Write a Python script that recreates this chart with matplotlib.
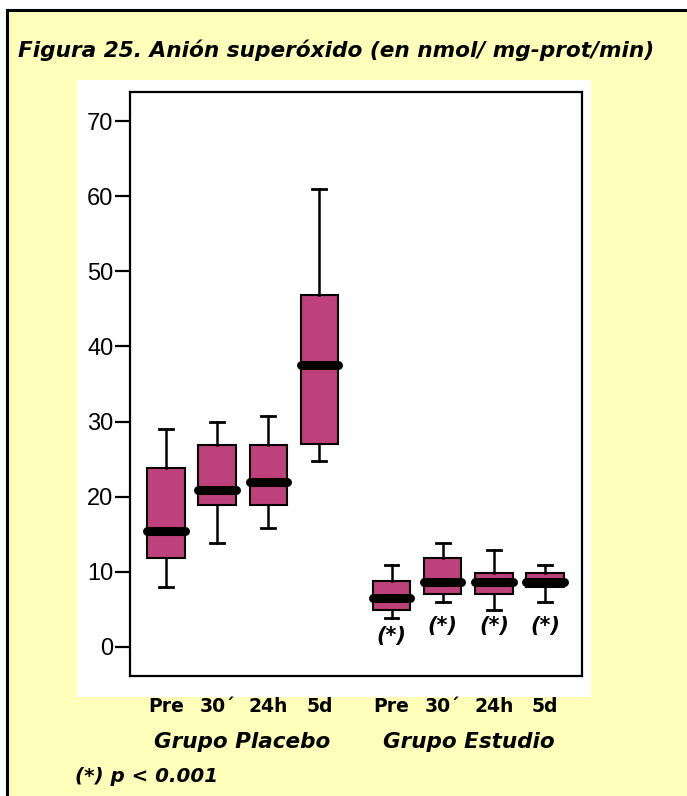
import matplotlib
matplotlib.use("Agg")
import matplotlib.pyplot as plt
from matplotlib.patches import Rectangle
from matplotlib.lines import Line2D
import matplotlib.transforms as mtransforms

# data (nmol / mg-prot / min)
times = ["Pre", "30\u00b4", "24h", "5d"]
groups = ["Grupo Placebo", "Grupo Estudio"]
positions = [1, 2, 3, 4, 5.41, 6.41, 7.41, 8.41]
whislo = [8.0, 13.9, 15.8, 24.8, 3.9, 6.0, 4.9, 6.0]
q1 = [11.9, 18.9, 18.9, 27.0, 4.9, 7.1, 7.1, 8.0]
med = [15.5, 20.9, 22.0, 37.5, 6.5, 8.6, 8.6, 8.6]
q3 = [23.8, 26.9, 26.9, 46.8, 8.8, 11.9, 9.9, 9.9]
whishi = [29.0, 30.0, 30.8, 60.9, 10.9, 13.9, 12.9, 10.9]
star_y = [1.4, 2.8, 2.8, 2.8]  # where the (*) marks sit under the study boxes

yellow = "#FFFFBB"
box_color = "#BD417B"
txt_font = ["DejaVu Sans"]
num_font = ["Liberation Sans Narrow", "Liberation Sans", "DejaVu Sans"]

fig = plt.figure(figsize=(6.87, 7.96), dpi=100)
W, H = 687.0, 796.0

# yellow card with black top and left border
fig.patches.append(Rectangle((7 / W, 0), 1 - 7 / W, 1 - 10 / H, transform=fig.transFigure,
                             facecolor=yellow, edgecolor="none", zorder=0))
fig.lines.append(Line2D([7 / W, 1], [1 - 10 / H, 1 - 10 / H], transform=fig.transFigure,
                        color="black", lw=2.2))
fig.lines.append(Line2D([7 / W, 7 / W], [0, 1 - 10 / H], transform=fig.transFigure,
                        color="black", lw=2.2))
# white panel behind the chart
fig.patches.append(Rectangle((77 / W, 1 - 697 / H), 514 / W, 617 / H, transform=fig.transFigure,
                             facecolor="white", edgecolor="none", zorder=0))

fig.text(18 / W, 1 - 50 / H, "Figura 25. Anión superóxido (en nmol/ mg-prot/min)",
         fontsize=15.6, fontweight="bold", fontstyle="italic", family=txt_font,
         ha="left", va="center")

ax = fig.add_axes([130 / W, 1 - 676 / H, 452 / W, 584 / H])
ax.set_zorder(2)
ax.set_facecolor("white")

stats = []
for i in range(len(positions)):
    stats.append({"whislo": whislo[i], "q1": q1[i], "med": med[i], "q3": q3[i],
                  "whishi": whishi[i], "fliers": []})

ax.bxp(stats, positions=positions, widths=0.73, patch_artist=True, showfliers=False,
       capwidths=0.27,
       boxprops=dict(facecolor=box_color, edgecolor="black", linewidth=1.5),
       whiskerprops=dict(color="black", linewidth=1.8),
       capprops=dict(color="black", linewidth=2.0),
       medianprops=dict(color="black", linewidth=6.5, solid_capstyle="round"))

ax.set_xlim(0.30, 9.13)
ax.set_ylim(-3.86, 73.86)
ax.set_yticks([0, 10, 20, 30, 40, 50, 60, 70])
ax.tick_params(axis="y", direction="out", length=11, width=1.6, pad=1, labelsize=17)
for lab in ax.get_yticklabels():
    lab.set_family(num_font)

ax.set_xticks(positions)
ax.set_xticklabels(times * 2, fontsize=13.5, fontweight="bold", family=txt_font)
ax.tick_params(axis="x", length=0, pad=15)
for s in ax.spines.values():
    s.set_linewidth(1.6)

# significance marks under the study boxes
for p, y in zip(positions[4:], star_y):
    ax.text(p, y, "(*)", ha="center", va="center", fontsize=15, fontweight="bold",
            fontstyle="italic", family=txt_font)

# group names under the time labels
trans = mtransforms.blended_transform_factory(ax.transData, fig.transFigure)
ax.text(sum(positions[:4]) / 4, 1 - 742 / H, groups[0], transform=trans, ha="center",
        va="center", fontsize=15.5, fontweight="bold", fontstyle="italic", family=txt_font)
ax.text(sum(positions[4:]) / 4, 1 - 742 / H, groups[1], transform=trans, ha="center",
        va="center", fontsize=15.5, fontweight="bold", fontstyle="italic", family=txt_font)

fig.text(75 / W, 1 - 777 / H, "(*) p < 0.001", fontsize=14.3, fontweight="bold",
         fontstyle="italic", family=txt_font, ha="left", va="center")

fig.savefig("out.png", dpi=100)
